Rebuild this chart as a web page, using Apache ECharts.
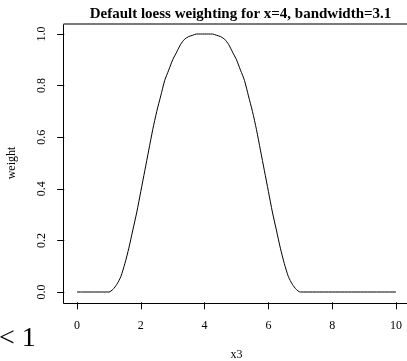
<!DOCTYPE html>
<html>
<head>
<meta charset="utf-8">
<script src="https://cdn.jsdelivr.net/npm/echarts@6/dist/echarts.min.js"></script>
<style>
  html, body { margin: 0; padding: 0; background: #fff; }
  #chart { width: 407px; height: 361px; }
</style>
</head>
<body>
<div id="chart"></div>
<script>
// Tricube loess weights around x = 4 (bandwidth 3.1)
const xValues = [
  0, 0.25, 0.5, 0.75, 1.0, 1.125, 1.25, 1.375, 1.5, 1.625, 1.75, 1.875,
  2.0, 2.125, 2.25, 2.375, 2.5, 2.625, 2.75, 2.875, 3.0, 3.125, 3.25, 3.375,
  3.5, 3.625, 3.75, 3.875, 4.0, 4.125, 4.25, 4.375, 4.5, 4.625, 4.75, 4.875,
  5.0, 5.125, 5.25, 5.375, 5.5, 5.625, 5.75, 5.875, 6.0, 6.125, 6.25, 6.375,
  6.5, 6.625, 6.75, 6.875, 7.0, 7.5, 8.0, 8.5, 9.0, 9.5, 10.0
];
const weights = [
  0, 0, 0, 0, 0, 0.01, 0.03, 0.06, 0.11, 0.17, 0.24, 0.31,
  0.39, 0.47, 0.55, 0.63, 0.70, 0.76, 0.82, 0.86, 0.90, 0.93, 0.96, 0.98,
  0.99, 0.995, 1.0, 1.0, 1.0, 1.0, 1.0, 0.995, 0.99, 0.98, 0.96, 0.93,
  0.90, 0.86, 0.82, 0.76, 0.70, 0.63, 0.55, 0.47, 0.39, 0.31, 0.24, 0.17,
  0.11, 0.06, 0.03, 0.01, 0, 0, 0, 0, 0, 0, 0
];
const xTicks = [0, 2, 4, 6, 8, 10];
const yTicks = [0.0, 0.2, 0.4, 0.6, 0.8, 1.0];

const titleText = 'Default loess weighting for x=4, bandwidth=3.1';
const serif = '"Liberation Serif", "DejaVu Serif", serif';

// Plot range (data range padded by 4% on each side)
const xMin = -0.4, xMax = 10.4;
const yMin = -0.04, yMax = 1.04;

// Plot area in pixels
const gridLeft = 64.24, gridTop = 23.68, gridWidth = 344.52, gridHeight = 278.64;

// Frame edges around the plot area
const frameL = Math.round(gridLeft) - 0.5;
const frameB = Math.round(gridTop + gridHeight) + 1.5;
const frameT = Math.round(gridTop);
const frameR = gridLeft + gridWidth;

const chart = echarts.init(document.getElementById('chart'), null, { renderer: 'canvas' });

chart.setOption({
  animation: false,
  backgroundColor: '#ffffff',
  title: {
    text: titleText,
    left: 235.5,
    top: 2,
    textAlign: 'center',
    textStyle: { fontFamily: serif, fontWeight: 'bold', fontSize: 15, color: '#000' }
  },
  grid: {
    left: gridLeft,
    top: gridTop,
    width: gridWidth,
    height: gridHeight,
    containLabel: false,
    outerBoundsMode: 'none'
  },
  xAxis: {
    type: 'value',
    position: 'bottom',
    min: xMin,
    max: xMax,
    name: 'x3',
    nameLocation: 'middle',
    nameGap: 47,
    nameTextStyle: { fontFamily: serif, fontSize: 12, color: '#000' },
    axisLine: { show: false, onZero: false },
    axisTick: {
      show: true, inside: false, length: 7, lineStyle: { color: '#000' },
      customValues: xTicks
    },
    axisLabel: {
      fontFamily: serif, fontSize: 12, color: '#000', margin: 18,
      customValues: xTicks,
      formatter: v => String(v)
    },
    splitLine: { show: false }
  },
  yAxis: {
    type: 'value',
    position: 'left',
    min: yMin,
    max: yMax,
    name: 'weight',
    nameLocation: 'middle',
    nameGap: 46,
    nameRotate: 90,
    nameTextStyle: { fontFamily: serif, fontSize: 12, color: '#000' },
    axisLine: { show: false, onZero: false },
    axisTick: {
      show: true, inside: false, length: 7, lineStyle: { color: '#000' },
      customValues: yTicks
    },
    axisLabel: {
      fontFamily: serif, fontSize: 12, color: '#000', margin: 16, rotate: 90,
      customValues: yTicks,
      formatter: v => v.toFixed(1)
    },
    splitLine: { show: false }
  },
  graphic: [
    { type: 'line', shape: { x1: frameL, y1: frameT, x2: frameL, y2: frameB },
      style: { stroke: '#000', lineWidth: 1 }, z: 100 },
    { type: 'line', shape: { x1: frameL, y1: frameB, x2: frameR, y2: frameB },
      style: { stroke: '#000', lineWidth: 1 }, z: 100 },
    { type: 'line', shape: { x1: frameL, y1: frameT, x2: frameR, y2: frameT },
      style: { stroke: '#7a7a7a', lineWidth: 2 }, z: 100 },
    {
      type: 'text', left: -1, top: 325,
      style: { text: '< 1', fontFamily: serif, fontSize: 28, fill: '#000' }
    }
  ],
  series: [{
    type: 'line',
    data: xValues.map((x, i) => [x, weights[i]]),
    showSymbol: false,
    smooth: 0.25,
    lineStyle: { color: '#000', width: 1 },
    clip: false
  }]
});
</script>
</body>
</html>
